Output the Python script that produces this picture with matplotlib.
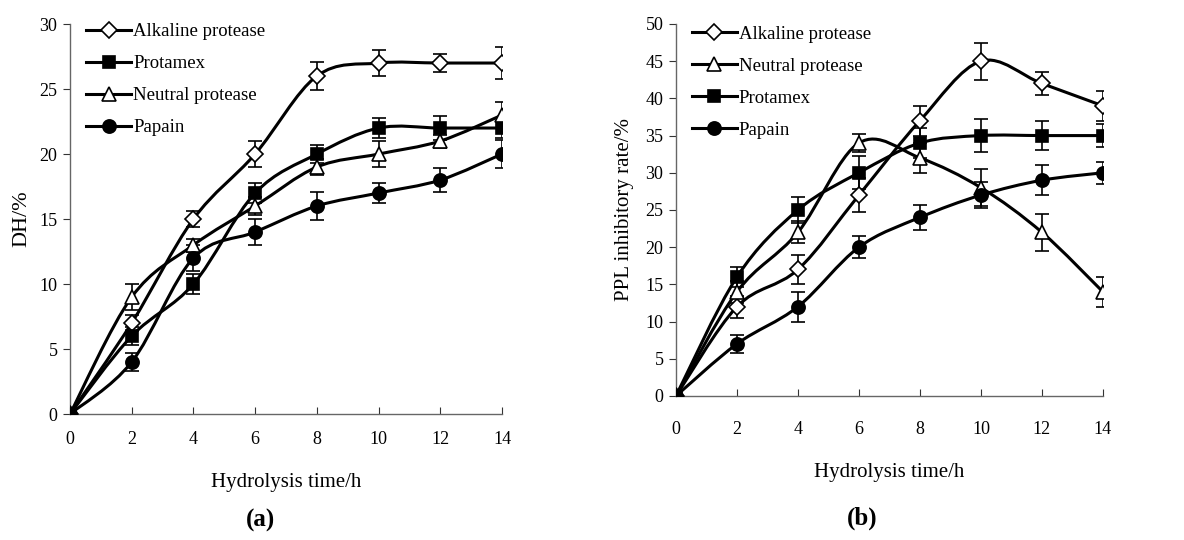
import numpy as np
import matplotlib
matplotlib.use("Agg")
import matplotlib.pyplot as plt
from matplotlib.path import Path
from matplotlib.patches import PathPatch
from matplotlib.lines import Line2D

plt.rcParams['font.family'] = ['Liberation Serif', 'DejaVu Serif']

hours = [0, 2, 4, 6, 8, 10, 12, 14]

# (a) degree of hydrolysis
dh_alkaline = [0, 7, 15, 20, 26, 27, 27, 27]
dh_alkaline_err = [0, 0.6, 0.6, 1.0, 1.1, 1.0, 0.7, 1.2]
dh_protamex = [0, 6, 10, 17, 20, 22, 22, 22]
dh_protamex_err = [0, 0.7, 0.8, 0.8, 0.7, 0.8, 0.9, 0.8]
dh_neutral = [0, 9, 13, 16, 19, 20, 21, 23]
dh_neutral_err = [0, 1.0, 0.5, 0.7, 0.6, 1.0, 0.5, 1.0]
dh_papain = [0, 4, 12, 14, 16, 17, 18, 20]
dh_papain_err = [0, 0.7, 1.0, 1.0, 1.1, 0.8, 0.9, 1.1]

# (b) PPL inhibitory rate
ppl_alkaline = [0, 12, 17, 27, 37, 45, 42, 39]
ppl_alkaline_err = [0, 1.5, 2.0, 2.3, 2.0, 2.5, 1.5, 2.0]
ppl_neutral = [0, 14, 22, 34, 32, 28, 22, 14]
ppl_neutral_err = [0, 1.5, 1.5, 1.2, 2.0, 2.5, 2.5, 2.0]
ppl_protamex = [0, 16, 25, 30, 34, 35, 35, 35]
ppl_protamex_err = [0, 1.3, 1.8, 2.2, 2.0, 2.2, 2.0, 1.5]
ppl_papain = [0, 7, 12, 20, 24, 27, 29, 30]
ppl_papain_err = [0, 1.2, 2.0, 1.5, 1.7, 1.7, 2.0, 1.5]

styles = {
    'Alkaline protease': dict(marker='D', mfc='white', ms=8),
    'Protamex': dict(marker='s', mfc='black', ms=9),
    'Neutral protease': dict(marker='^', mfc='white', ms=10),
    'Papain': dict(marker='o', mfc='black', ms=9.5),
}


def smooth_path(x, y):
    # excel-like smoothed line: catmull-rom as cubic bezier
    pts = np.column_stack([x, y]).astype(float)
    n = len(pts)
    verts = [pts[0]]
    codes = [Path.MOVETO]
    for i in range(n - 1):
        p0 = pts[i - 1] if i > 0 else pts[i]
        p1 = pts[i]
        p2 = pts[i + 1]
        p3 = pts[i + 2] if i + 2 < n else pts[i + 1]
        c1 = p1 + (p2 - p0) / 6.0
        c2 = p2 - (p3 - p1) / 6.0
        verts += [c1, c2, p2]
        codes += [Path.CURVE4] * 3
    return Path(verts, codes)


def draw_series(ax, name, y, err):
    st = styles[name]
    ax.add_patch(PathPatch(smooth_path(hours, y), fill=False, lw=2.2,
                           edgecolor='black', zorder=2))
    ax.errorbar(hours[1:], y[1:], yerr=err[1:], fmt='none', ecolor='black',
                elinewidth=1.2, capsize=5, capthick=1.2, zorder=3)
    ax.plot(hours, y, linestyle='none', marker=st['marker'], ms=st['ms'],
            mfc=st['mfc'], mec='black', mew=1.2, zorder=4)


def style_axes(ax, ymax, ystep, xpad):
    ax.set_xlim(0, 14)
    ax.set_ylim(0, ymax)
    ax.set_xticks(range(0, 15, 2))
    ax.set_yticks(range(0, ymax + 1, ystep))
    for s in ['top', 'right']:
        ax.spines[s].set_visible(False)
    for s in ['left', 'bottom']:
        ax.spines[s].set_color('#666666')
        ax.spines[s].set_linewidth(1.0)
    ax.tick_params(axis='x', direction='in', length=5, color='#333333',
                   labelsize=13, pad=xpad)
    ax.tick_params(axis='y', direction='out', length=5, color='#333333',
                   labelsize=13, pad=4)


def add_legend(ax, names, ytop):
    handles = [Line2D([], [], color='black', lw=2.2, marker=styles[n]['marker'],
                      ms=styles[n]['ms'], mfc=styles[n]['mfc'], mec='black', mew=1.2)
               for n in names]
    ax.legend(handles, names, loc='upper left', bbox_to_anchor=(0.02, ytop),
              frameon=False, fontsize=13.5, handlelength=2.4, handletextpad=0.1,
              labelspacing=0.8, borderaxespad=0)


fig = plt.figure(figsize=(11.84, 5.4), dpi=100)
ax1 = fig.add_axes([0.0591, 0.2333, 0.3649, 0.7222])
ax2 = fig.add_axes([0.5709, 0.2667, 0.3606, 0.6889])

draw_series(ax1, 'Alkaline protease', dh_alkaline, dh_alkaline_err)
draw_series(ax1, 'Protamex', dh_protamex, dh_protamex_err)
draw_series(ax1, 'Neutral protease', dh_neutral, dh_neutral_err)
draw_series(ax1, 'Papain', dh_papain, dh_papain_err)
style_axes(ax1, 30, 5, 12)
add_legend(ax1, ['Alkaline protease', 'Protamex', 'Neutral protease', 'Papain'], 1.022)
ax1.set_ylabel('DH/%', fontsize=16, labelpad=6)
ax1.set_xlabel('Hydrolysis time/h', fontsize=15, labelpad=18)

draw_series(ax2, 'Alkaline protease', ppl_alkaline, ppl_alkaline_err)
draw_series(ax2, 'Neutral protease', ppl_neutral, ppl_neutral_err)
draw_series(ax2, 'Protamex', ppl_protamex, ppl_protamex_err)
draw_series(ax2, 'Papain', ppl_papain, ppl_papain_err)
style_axes(ax2, 50, 5, 18)
add_legend(ax2, ['Alkaline protease', 'Neutral protease', 'Protamex', 'Papain'], 1.016)
ax2.set_ylabel('PPL inhibitory rate/%', fontsize=15, labelpad=8)
ax2.set_xlabel('Hydrolysis time/h', fontsize=15, labelpad=18)

fig.text(0.2196, 0.025, '(a)', fontsize=18, fontweight='bold', ha='center')
fig.text(0.728, 0.028, '(b)', fontsize=18, fontweight='bold', ha='center')

fig.savefig('out.png', dpi=100)
